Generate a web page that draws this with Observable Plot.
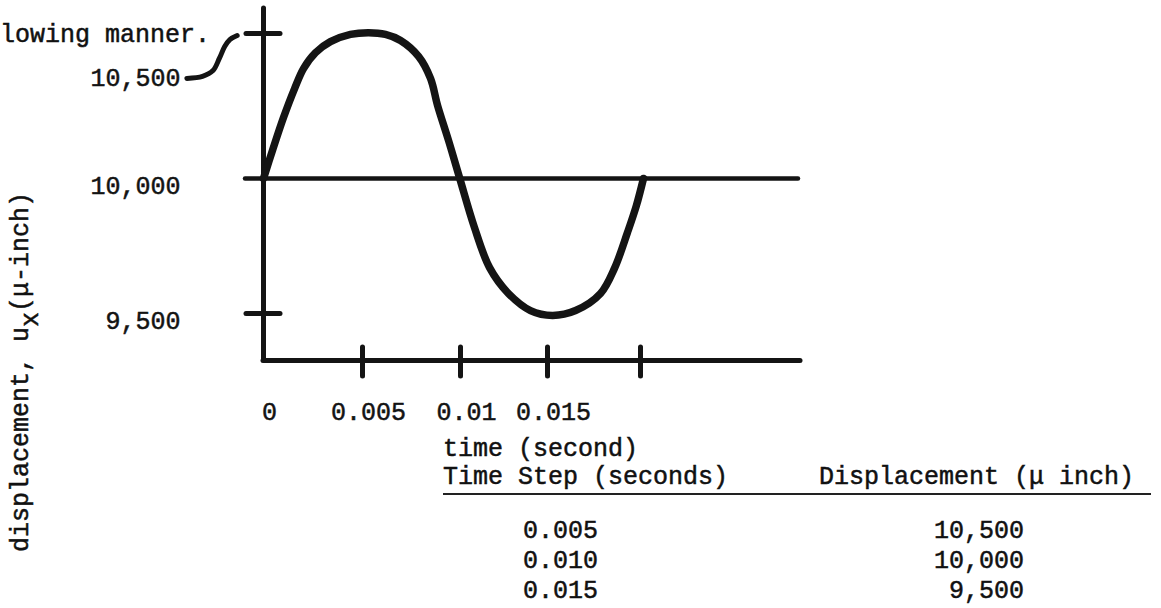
<!DOCTYPE html>
<html>
<head>
<meta charset="utf-8">
<script src="https://cdn.jsdelivr.net/npm/d3@7"></script>
<script src="https://cdn.jsdelivr.net/npm/@observablehq/plot@0.6"></script>
<style>
  html, body { margin: 0; padding: 0; background: #fff; }
  #page { position: relative; width: 1161px; height: 608px; overflow: hidden;
          font-family: "Liberation Mono", monospace; font-size: 25px; color: #111; }
  .t { position: absolute; white-space: pre; line-height: 1; -webkit-text-stroke: 0.5px #111; }
  #chart { position: absolute; left: 0; top: 0; }
  #chart svg text { stroke: #111; stroke-width: 0.5px; }
  .ytitle { position: absolute; left: 21px; top: 372px; white-space: pre; line-height: 1;
            transform: translate(-50%, -50%) rotate(-90deg); -webkit-text-stroke: 0.5px #111; }
  .ytitle .sub { position: relative; top: 0.4em; }
  .rule { position: absolute; background: #222; }
</style>
</head>
<body>
<div id="page">
  <div id="chart"></div>
</div>
<script>
// ---- data ----
const timeTicks = [0, 0.005, 0.01, 0.015, 0.02];        // tick positions on time axis (s)
const timeTickLabels = ["0", "0.005", "0.01", "0.015"]; // labels printed under the first four
const dispTicks = [9500, 10000, 10500];                  // displacement ticks (μ-inch)
const dispAxisBase = 9326;                               // displacement at the drawn time axis

// hand-drawn curve (time s, displacement μ-inch)
const curveTime = [0, 0.000455, 0.00101, 0.00157, 0.00202, 0.00263, 0.00338, 0.00439, 0.00531,
  0.00617, 0.00694, 0.00786, 0.00847, 0.00883, 0.00939, 0.00995, 0.0108, 0.01167, 0.01276,
  0.01402, 0.01527, 0.01651, 0.01785, 0.0186, 0.0193, 0.01978, 0.02016];
const curveDisp = [10000, 10097, 10210, 10310, 10379, 10434, 10472, 10497, 10503,
  10497, 10476, 10421, 10345, 10252, 10131, 10003, 9819, 9670, 9574,
  9511, 9493, 9511, 9574, 9667, 9800, 9900, 10000];

// curly pointer from the "10,500" label to its tick
const pointerTime = [-0.00387, -0.00308, -0.00255, -0.00223, -0.00196, -0.0017, -0.00133];
const pointerDisp = [10345, 10352, 10372, 10414, 10455, 10479, 10493];

// table
const tableTimeSteps = ["0.005", "0.010", "0.015"];
const tableDisplacements = [10500, 10000, 9500];

// texts
const leadText = "lowing manner.";
const xTitle = "time (second)";
const colHeads = ["Time Step (seconds)", "Displacement (\u03bc inch)"];

// ---- build ----
const curve = curveTime.map((t, i) => ({t, v: curveDisp[i]}));
const pointer = pointerTime.map((t, i) => ({t, v: pointerDisp[i]}));
const labelOf = new Map(timeTickLabels.map((s, i) => [timeTicks[i], s]));
const ink = "#141414";
const font = "'Liberation Mono', monospace";

const chart = Plot.plot({
  width: 1161,
  height: 608,
  marginLeft: 263,
  marginRight: 361,
  marginTop: 8,
  marginBottom: 248,
  style: {background: "transparent", fontFamily: font, color: ink, overflow: "visible"},
  x: {type: "linear", domain: timeTicks, range: [263, 362, 460, 547, 640]},
  y: {type: "linear", domain: dispTicks, range: [313, 178, 33]},
  marks: [
    Plot.ruleX([0], {stroke: ink, strokeWidth: 5, strokeLinecap: "round"}),
    Plot.ruleY([dispAxisBase], {stroke: ink, strokeWidth: 5, strokeLinecap: "round"}),
    Plot.ruleY([10000], {stroke: ink, strokeWidth: 4.5, insetLeft: -18, insetRight: 2, strokeLinecap: "round"}),
    Plot.ruleX(timeTicks.slice(1), {x: d => d, y1: () => dispAxisBase, y2: () => dispAxisBase,
      insetTop: -13, insetBottom: -16, stroke: ink, strokeWidth: 5, strokeLinecap: "round"}),
    Plot.ruleY([dispTicks[0], dispTicks[2]], {y: d => d, x1: () => 0, x2: () => 0,
      insetLeft: -17, insetRight: -17, stroke: ink, strokeWidth: 5, strokeLinecap: "round"}),
    Plot.line(curve, {x: "t", y: "v", curve: "catmull-rom", stroke: ink, strokeWidth: 7.5,
      strokeLinecap: "round", strokeLinejoin: "round"}),
    Plot.line(pointer, {x: "t", y: "v", curve: "catmull-rom", stroke: ink, strokeWidth: 5,
      strokeLinecap: "round"}),
    Plot.axisX(timeTickLabels.map((s, i) => timeTicks[i]), {tickSize: 0, tickPadding: 42, dx: 6,
      tickFormat: d => labelOf.get(d), fontSize: 25, label: null, fill: ink}),
    Plot.axisY([dispTicks[2]], {tickSize: 0, tickPadding: 83, dy: 44,
      tickFormat: d3.format(","), fontSize: 25, label: null, fill: ink}),
    Plot.axisY([dispTicks[1], dispTicks[0]], {tickSize: 0, tickPadding: 83, dy: 7,
      tickFormat: d3.format(","), fontSize: 25, label: null, fill: ink})
  ]
});
document.getElementById("chart").appendChild(chart);

// ---- surrounding typed text ----
const page = document.getElementById("page");
function addText(txt, left, top, opts = {}) {
  const d = document.createElement("div");
  d.className = "t";
  d.textContent = txt;
  d.style.top = top + "px";
  if (opts.right != null) { d.style.right = opts.right + "px"; d.style.textAlign = "right"; }
  else d.style.left = left + "px";
  page.appendChild(d);
  return d;
}
addText(leadText, 0, 23);
addText(xTitle, 443, 437);
addText(colHeads[0], 443, 465);
addText(colHeads[1], 819, 465);
const ul = document.createElement("div");
ul.className = "rule";
Object.assign(ul.style, {left: "443px", top: "493px", width: "708px", height: "2px"});
page.appendChild(ul);
const fmt = d3.format(",");
tableTimeSteps.forEach((s, i) => {
  const top = 519 + i * 30;
  addText(s, 523, top);
  addText(fmt(tableDisplacements[i]), 0, top, {right: 1161 - 1024});
});

const yt = document.createElement("div");
yt.className = "ytitle";
yt.innerHTML = "displacement, u<span class=\"sub\">x</span>(\u03bc-inch)";
page.appendChild(yt);
</script>
</body>
</html>
